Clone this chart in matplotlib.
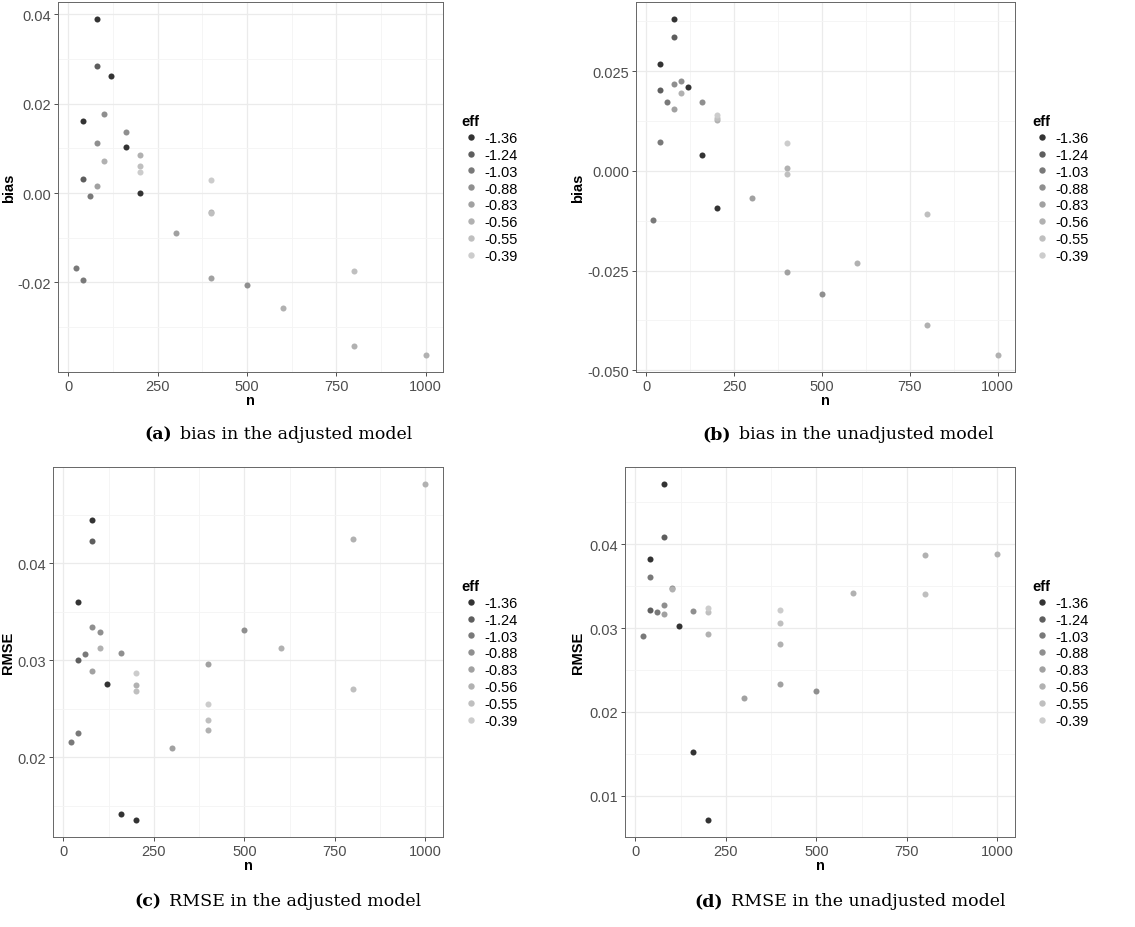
import numpy as np
import matplotlib
matplotlib.use("Agg")
import matplotlib.pyplot as plt
from matplotlib.transforms import blended_transform_factory
from matplotlib.lines import Line2D

plt.rcParams["font.family"] = ["Liberation Sans", "DejaVu Sans"]

# simulation scenarios: efficiency level and sample size
eff_levels = [-1.36, -1.24, -1.03, -0.88, -0.83, -0.56, -0.55, -0.39]
eff = [-1.36, -1.36, -1.36, -1.36, -1.36, -1.24, -1.24, -1.03, -1.03, -1.03,
       -0.88, -0.88, -0.88, -0.88, -0.83, -0.83, -0.83,
       -0.56, -0.56, -0.56, -0.56, -0.56, -0.56, -0.55, -0.55, -0.55, -0.39, -0.39]
n = [40, 80, 120, 160, 200, 40, 80, 20, 40, 60,
     80, 100, 160, 500, 80, 300, 400,
     100, 200, 400, 600, 800, 1000, 200, 400, 800, 200, 400]

bias_adj = [0.0162, 0.0390, 0.0261, 0.0103, 0.0001, 0.0032, 0.0285, -0.0168, -0.0194, -0.0006,
            0.0112, 0.0177, 0.0137, -0.0207, 0.0016, -0.0089, -0.0191,
            0.0072, 0.0085, -0.0043, -0.0258, -0.0343, -0.0363, 0.0060, -0.0044, -0.0174, 0.0048, 0.0029]
bias_unadj = [0.0268, 0.0381, 0.0210, 0.0040, -0.0093, 0.0203, 0.0336, -0.0124, 0.0073, 0.0173,
              0.0218, 0.0225, 0.0173, -0.0308, 0.0154, -0.0068, -0.0253,
              0.0196, 0.0127, 0.0007, -0.0231, -0.0387, -0.0462, 0.0133, -0.0009, -0.0108, 0.0139, 0.0070]
rmse_adj = [0.0360, 0.0445, 0.0276, 0.0141, 0.0135, 0.0300, 0.0423, 0.0216, 0.0225, 0.0306,
            0.0334, 0.0329, 0.0307, 0.0331, 0.0289, 0.0209, 0.0296,
            0.0313, 0.0274, 0.0228, 0.0313, 0.0425, 0.0482, 0.0268, 0.0238, 0.0270, 0.0287, 0.0255]
rmse_unadj = [0.0382, 0.0472, 0.0302, 0.0152, 0.0071, 0.0321, 0.0409, 0.0290, 0.0361, 0.0319,
              0.0328, 0.0348, 0.0320, 0.0225, 0.0317, 0.0217, 0.0233,
              0.0347, 0.0293, 0.0281, 0.0342, 0.0387, 0.0388, 0.0319, 0.0306, 0.0341, 0.0324, 0.0321]

captions = [("(a)", "bias in the adjusted model"),
            ("(b)", "bias in the unadjusted model"),
            ("(c)", "RMSE in the adjusted model"),
            ("(d)", "RMSE in the unadjusted model")]

W, H = 1135, 928
fig = plt.figure(figsize=(W / 100, H / 100), dpi=100)

# grey palette like ggplot scale_colour_grey (start 0.2, end 0.8)
g = np.linspace(0.2 ** 2.2, 0.8 ** 2.2, len(eff_levels)) ** (1 / 2.2)
greys = [(v, v, v) for v in g]

eff_arr = np.array(eff)
n_arr = np.array(n)


def panel(box, y, ylab, yticks, yminor, fmt, ylab_x, leg_xy):
    l, t, r, b = box
    ax = fig.add_axes([l / W, 1 - b / H, (r - l) / W, (b - t) / H])
    y = np.array(y)
    for lev, c in zip(eff_levels, greys):
        m = eff_arr == lev
        ax.scatter(n_arr[m], y[m], s=19, color=c, linewidths=0, zorder=3)
    ax.margins(0.05)
    ax.set_xticks([0, 250, 500, 750, 1000])
    ax.set_xticks([125, 375, 625, 875], minor=True)
    ax.set_yticks(yticks)
    ax.set_yticks(yminor, minor=True)
    ax.set_yticklabels([fmt % v for v in yticks])
    ax.grid(which="major", color="#EBEBEB", lw=0.9, zorder=0)
    ax.grid(which="minor", color="#F4F4F4", lw=0.6, zorder=0)
    ax.set_axisbelow(True)
    ax.tick_params(which="major", direction="out", length=3, width=0.6,
                   color="#333333", labelcolor="#4D4D4D", labelsize=10.5, pad=2)
    ax.tick_params(which="minor", length=0)
    for s in ax.spines.values():
        s.set_color("#666666")
        s.set_linewidth(0.7)
    ax.set_xlabel("n", fontsize=10.5, fontweight="bold", labelpad=0)
    ax.set_ylabel(ylab, fontsize=10.5, fontweight="bold")
    ax.yaxis.set_label_coords(ylab_x / W, 0.5,
                              transform=blended_transform_factory(fig.transFigure, ax.transAxes))

    handles = [Line2D([], [], marker="o", ls="", ms=4.6, color=c, mec="none") for c in greys]
    leg = ax.legend(handles, ["%.2f" % v for v in eff_levels], title="eff",
                    loc="upper left", bbox_to_anchor=(leg_xy[0] / W, 1 - leg_xy[1] / H),
                    bbox_transform=fig.transFigure, frameon=False, fontsize=10.5,
                    labelspacing=0.2, handletextpad=0.35, handlelength=1.2,
                    borderaxespad=0, alignment="left")
    leg.get_title().set_fontweight("bold")
    leg.get_title().set_fontsize(10.5)
    return ax


panel((58, 3, 443, 373), bias_adj, "bias", [-0.02, 0.0, 0.02, 0.04],
      [-0.03, -0.01, 0.01, 0.03], "%.2f", 16, (456, 109))
panel((636, 3, 1015, 373), bias_unadj, "bias", [-0.05, -0.025, 0.0, 0.025],
      [-0.0375, -0.0125, 0.0125, 0.0375], "%.3f", 585, (1027, 109))
panel((53, 468, 443, 838), rmse_adj, "RMSE", [0.02, 0.03, 0.04],
      [0.015, 0.025, 0.035, 0.045], "%.2f", 15, (456, 574))
panel((625, 468, 1015, 838), rmse_unadj, "RMSE", [0.01, 0.02, 0.03, 0.04],
      [0.015, 0.025, 0.035, 0.045], "%.2f", 585, (1027, 574))

# captions, centred under each panel
renderer = fig.canvas.get_renderer()
cap_pos = [(278, 435), (848, 435), (278, 902), (850, 902)]
for (lab, txt), (cx, cy) in zip(captions, cap_pos):
    t1 = fig.text(0, 1 - cy / H, lab, fontsize=12.5, fontweight="bold",
                  family="DejaVu Serif", va="center")
    t2 = fig.text(0, 1 - cy / H, txt, fontsize=12.5, family="DejaVu Serif", va="center")
    w1 = t1.get_window_extent(renderer).width
    w2 = t2.get_window_extent(renderer).width
    gap = 8
    x0 = cx - (w1 + gap + w2) / 2
    t1.set_x(x0 / W)
    t2.set_x((x0 + w1 + gap) / W)

fig.savefig("out.png", dpi=100)
